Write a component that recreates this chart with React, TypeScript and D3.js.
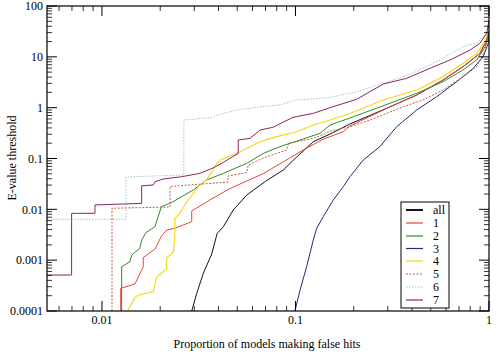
import React from "react";
import * as d3 from "d3";

type Pt = [number, number];

// tick labels
const xTickValues = [0.01, 0.1, 1];
const xTickLabels = ["0.01", "0.1", "1"];
const yTickValues = [0.0001, 0.001, 0.01, 0.1, 1, 10, 100];
const yTickLabels = ["0.0001", "0.001", "0.01", "0.1", "1", "10", "100"];

const seriesNames = ["all", "1", "2", "3", "4", "5", "6", "7"];

// [proportion of models, E-value threshold]
const seriesAll: Pt[] = [
  [0.0291, 0.0001], [0.0309, 0.000223], [0.0334, 0.000551], [0.0369, 0.00132], [0.0394, 0.00337],
  [0.0424, 0.00455], [0.0477, 0.0097], [0.056, 0.0191], [0.0698, 0.0353], [0.0865, 0.0594],
  [0.1014, 0.107], [0.1236, 0.214], [0.151, 0.303], [0.191, 0.477], [0.308, 1.04], [0.423, 1.77],
  [0.5785, 3.5], [0.7338, 6.4], [0.898, 11.7], [0.973, 21.4], [1, 42],
];
const series1: Pt[] = [
  [0.0125, 0.0001], [0.0125, 0.000279], [0.01482, 0.00034], [0.01634, 0.000743], [0.01634, 0.00113],
  [0.0188, 0.00165], [0.0203, 0.00298], [0.0216, 0.00392], [0.0238, 0.00424], [0.0263, 0.00492],
  [0.0291, 0.00571], [0.0291, 0.0093], [0.0341, 0.0133], [0.0361, 0.0153], [0.0459, 0.0257],
  [0.056, 0.036], [0.0682, 0.0506], [0.088, 0.0892], [0.112, 0.154], [0.1392, 0.24], [0.1766, 0.337],
  [0.191, 0.436], [0.308, 1.04], [0.423, 1.77], [0.5785, 3.5], [0.7338, 6.4], [0.898, 11.7],
  [0.973, 21.4], [1, 34],
];
const series2: Pt[] = [
  [0.01264, 0.0001], [0.01264, 0.000743], [0.01396, 0.000933], [0.01424, 0.00126], [0.0157, 0.00171],
  [0.01604, 0.00249], [0.0169, 0.0035], [0.0188, 0.00455], [0.0195, 0.00716], [0.0203, 0.0113],
  [0.0229, 0.0136], [0.0258, 0.0177], [0.0296, 0.024], [0.0347, 0.0377], [0.0424, 0.0511],
  [0.056, 0.0804], [0.0682, 0.126], [0.0832, 0.171], [0.1056, 0.231], [0.134, 0.313], [0.151, 0.456],
  [0.191, 0.625], [0.308, 1.22], [0.423, 1.92], [0.5785, 3.24], [0.7338, 5.51], [0.8637, 8.67],
  [0.954, 15.8], [1, 29],
];
const series3: Pt[] = [
  [0.0994, 0.0001], [0.1056, 0.000259], [0.1142, 0.000743], [0.1236, 0.00249], [0.1287, 0.00424],
  [0.1392, 0.00716], [0.1568, 0.0153], [0.1766, 0.0279], [0.191, 0.0438], [0.2241, 0.0934],
  [0.273, 0.171], [0.3334, 0.422], [0.423, 0.9], [0.5366, 1.64], [0.6808, 3.24], [0.8297, 5.95],
  [0.934, 10.1], [0.9917, 18.5], [1, 34],
];
const series4: Pt[] = [
  [0.0136, 0.0001], [0.01469, 0.000177], [0.0154, 0.000207], [0.0184, 0.000239], [0.0192, 0.000472],
  [0.0216, 0.00067], [0.0216, 0.0011], [0.0234, 0.00145], [0.0238, 0.00289], [0.0238, 0.00665],
  [0.0253, 0.00835], [0.0258, 0.0097], [0.0279, 0.0153], [0.0315, 0.0279], [0.0347, 0.0377],
  [0.0375, 0.0594], [0.0392, 0.0804], [0.0416, 0.097], [0.0517, 0.136], [0.0656, 0.214],
  [0.0799, 0.269], [0.1014, 0.337], [0.1236, 0.456], [0.151, 0.571], [0.191, 0.77], [0.2843, 1.42],
  [0.423, 2.22], [0.5785, 4.07], [0.7338, 7.46], [0.8637, 11.7], [0.954, 19.9], [1, 37],
];
const series5: Pt[] = [
  [0.01127, 0.0001], [0.01127, 0.0105], [0.0225, 0.0111], [0.0225, 0.0282], [0.0448, 0.0345],
  [0.0448, 0.0452], [0.056, 0.053], [0.057, 0.0745], [0.0682, 0.102], [0.0901, 0.147], [0.092, 0.199],
  [0.119, 0.2416], [0.134, 0.277], [0.151, 0.347], [0.191, 0.422], [0.243, 0.571], [0.3607, 1.04],
  [0.456, 1.42], [0.5785, 2.22], [0.7338, 4.07], [0.8637, 6.4], [0.954, 13.6], [1, 27],
];
const series6: Pt[] = [
  [0.0052, 0.00636], [0.0133, 0.00636], [0.0133, 0.0433], [0.0265, 0.0473], [0.0265, 0.571],
  [0.0375, 0.646], [0.0392, 0.717], [0.0497, 0.9], [0.0656, 1.04], [0.0832, 1.13], [0.1014, 1.42],
  [0.1236, 1.48], [0.151, 1.6], [0.191, 1.92], [0.2071, 2.06], [0.2843, 3.01], [0.4048, 4.81],
  [0.558, 8.67], [0.7338, 15.8], [0.867, 18.7], [0.975, 30],
];
const series7: Pt[] = [
  [0.0052, 0.00051], [0.00697, 0.00051], [0.00697, 0.00835], [0.0092, 0.00835], [0.0092, 0.0122],
  [0.01604, 0.0131], [0.01604, 0.029], [0.0184, 0.0301], [0.0188, 0.0349], [0.0207, 0.0394],
  [0.0258, 0.0438], [0.0321, 0.0511], [0.0375, 0.0651], [0.0416, 0.0804], [0.0459, 0.101],
  [0.0506, 0.126], [0.0506, 0.231], [0.0582, 0.249], [0.0656, 0.363], [0.0765, 0.411],
  [0.0971, 0.646], [0.1236, 0.774], [0.151, 1.0], [0.2071, 1.46], [0.2843, 2.92], [0.3756, 3.78],
  [0.496, 5.95], [0.629, 8.67], [0.798, 13.6], [0.898, 18.5], [0.973, 29], [1, 53],
];

const seriesData: Pt[][] = [seriesAll, series1, series2, series3, series4, series5, series6, series7];

const colors = ["#141414", "#e5453a", "#2e8b2e", "#1f2d7a", "#f5d614", "#b5614c", "#a9bdd0", "#8c2564"];
const dashes = ["", "", "", "", "", "2,1.5", "1.5,1.5", ""];
const widths = [1, 1, 1, 1, 1.1, 1, 1, 1];

const W = 500;
const H = 356;
const L = 47, R = 489, T = 6, B = 311;

export default function App() {
  const x = d3.scaleLog().domain([0.0052, 1]).range([L, R]);
  const y = d3.scaleLog().domain([0.0001, 100]).range([B, T]);
  const line = d3
    .line<Pt>()
    .x((d) => x(d[0]))
    .y((d) => y(d[1]));

  const yMinor: number[] = [];
  for (let e = -4; e < 2; e++) for (let k = 2; k <= 9; k++) yMinor.push(k * Math.pow(10, e));
  const xMinor: number[] = [];
  for (let e = -3; e < 0; e++)
    for (let k = 2; k <= 9; k++) {
      const v = k * Math.pow(10, e);
      if (v > 0.0052 && v < 1) xMinor.push(v);
    }

  const font = "'Liberation Serif', 'DejaVu Serif', serif";
  const legendY = [210, 223, 236, 248.5, 261, 274, 287, 300];

  return (
    <svg
      width={W}
      height={H}
      style={{ position: "absolute", left: 0, top: 0, background: "#fff" }}
      fontFamily={font}
    >
      <defs>
        <clipPath id="plot">
          <rect x={L} y={T} width={R - L} height={B - T} />
        </clipPath>
      </defs>
      <rect x={0} y={0} width={W} height={H} fill="#fff" />
      <g clipPath="url(#plot)">
        {seriesData.map((s, i) => (
          <path
            key={i}
            d={line(s) || ""}
            fill="none"
            stroke={colors[i]}
            strokeWidth={widths[i]}
            strokeDasharray={dashes[i] || undefined}
          />
        ))}
      </g>
      {/* frame */}
      <rect x={L} y={T} width={R - L} height={B - T} fill="none" stroke="#000" strokeWidth={1.2} />
      {/* y ticks */}
      {yTickValues.map((v) => (
        <g key={"yt" + v}>
          <line x1={L} x2={L + 10} y1={y(v)} y2={y(v)} stroke="#000" />
          <line x1={R} x2={R - 10} y1={y(v)} y2={y(v)} stroke="#000" />
        </g>
      ))}
      {yMinor.map((v) => (
        <g key={"ym" + v}>
          <line x1={L} x2={L + 5} y1={y(v)} y2={y(v)} stroke="#000" strokeWidth={0.8} />
          <line x1={R} x2={R - 5} y1={y(v)} y2={y(v)} stroke="#000" strokeWidth={0.8} />
        </g>
      ))}
      {xTickValues.map((v) => (
        <g key={"xt" + v}>
          <line x1={x(v)} x2={x(v)} y1={B} y2={B - 10} stroke="#000" />
          <line x1={x(v)} x2={x(v)} y1={T} y2={T + 10} stroke="#000" />
        </g>
      ))}
      {xMinor.map((v) => (
        <g key={"xm" + v}>
          <line x1={x(v)} x2={x(v)} y1={B} y2={B - 5} stroke="#000" strokeWidth={0.8} />
          <line x1={x(v)} x2={x(v)} y1={T} y2={T + 5} stroke="#000" strokeWidth={0.8} />
        </g>
      ))}
      {yTickValues.map((v, i) => (
        <text key={"yl" + v} x={43} y={y(v)} dy="0.35em" textAnchor="end" fontSize={12} fill="#000">
          {yTickLabels[i]}
        </text>
      ))}
      {xTickValues.map((v, i) => (
        <text key={"xl" + v} x={x(v)} y={324} textAnchor="middle" fontSize={12} fill="#000">
          {xTickLabels[i]}
        </text>
      ))}
      <text x={267} y={348} textAnchor="middle" fontSize={12} fill="#000">
        Proportion of models making false hits
      </text>
      <text
        transform={`translate(16,158) rotate(-90)`}
        textAnchor="middle"
        fontSize={12}
        fill="#000"
      >
        E-value threshold
      </text>
      {/* legend */}
      <rect x={401} y={202} width={48} height={106} fill="#fff" stroke="#000" strokeWidth={1} />
      {seriesNames.map((n, i) => (
        <g key={"lg" + n}>
          <line
            x1={406}
            x2={423}
            y1={legendY[i]}
            y2={legendY[i]}
            stroke={colors[i]}
            strokeWidth={i === 0 ? 2 : 1.2}
            strokeDasharray={dashes[i] || undefined}
          />
          <text x={433} y={legendY[i]} dy="0.35em" fontSize={12} fill="#000">
            {n}
          </text>
        </g>
      ))}
    </svg>
  );
}
